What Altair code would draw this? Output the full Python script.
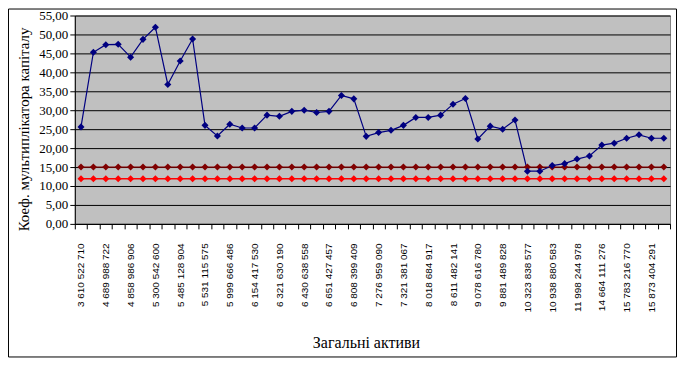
import json
import altair as alt
import pandas as pd

# category labels shown on every second category
labels = ["3 610 522 710", "4 689 988 722", "4 858 986 906", "5 300 542 600",
          "5 485 128 904", "5 531 115 575", "5 999 666 486", "6 154 417 530",
          "6 321 630 190", "6 430 638 558", "6 651 427 457", "6 808 399 409",
          "7 276 959 090", "7 321 381 067", "8 018 684 917", "8 611 482 141",
          "9 078 616 780", "9 881 489 828", "10 323 838 577", "10 938 880 583",
          "11 998 244 978", "14 664 111 276", "15 783 216 770", "15 873 404 291"]

multiplier = [25.6, 45.3, 47.3, 47.4, 44.0, 48.7, 51.9, 36.8, 43.0, 48.8,
              26.0, 23.2, 26.3, 25.3, 25.3, 28.7, 28.4, 29.7, 30.0, 29.4,
              29.7, 33.9, 33.0, 23.1, 24.1, 24.7, 26.0, 28.1, 28.1, 28.7,
              31.6, 33.1, 22.4, 25.8, 25.0, 27.4, 13.9, 13.9, 15.4, 15.9,
              17.1, 17.9, 20.8, 21.3, 22.6, 23.5, 22.6, 22.6]
upper_level = 15.0
lower_level = 11.9

series = ["lower", "upper", "multiplier"]
colors = ["#FF0000", "#800000", "#000080"]
widths = [1.5, 1.2, 1.0]

rows = []
for i in range(len(multiplier)):
    rows.append({"i": i, "v": lower_level, "s": "lower"})
for i in range(len(multiplier)):
    rows.append({"i": i, "v": upper_level, "s": "upper"})
for i, v in enumerate(multiplier):
    rows.append({"i": i, "v": v, "s": "multiplier"})
df = pd.DataFrame(rows)

label_expr = "datum.value % 2 == 0 ? " + json.dumps(labels, ensure_ascii=False) + "[datum.value / 2] : ''"

x = alt.X("i:O",
          scale=alt.Scale(type="band", paddingInner=0, paddingOuter=0),
          sort=None,
          axis=alt.Axis(labelExpr=label_expr, labelAngle=-90, labelAlign="right",
                        labelBaseline="middle", labelFont="Liberation Sans",
                        labelFontSize=10, labelColor="black", labelPadding=14,
                        labelOverlap=False, labelFlush=False,
                        tickBand="extent", tickSize=5, tickColor="black",
                        domainColor="black", grid=False,
                        titleFont="Liberation Serif", titleFontSize=16,
                        titleFontWeight="normal", titleColor="black",
                        titleX=292, titleY=124, titleAlign="center",
                        titleBaseline="alphabetic"),
          title="Загальні активи")

y = alt.Y("v:Q",
          scale=alt.Scale(domain=[0, 55], nice=False, zero=True),
          axis=alt.Axis(values=list(range(0, 56, 5)),
                        labelExpr="replace(format(datum.value, '.2f'), '.', ',')",
                        labelFont="Liberation Serif", labelFontSize=13,
                        labelColor="black", labelPadding=2,
                        grid=True, gridColor="black", gridWidth=1,
                        tickSize=5, tickColor="black", domainColor="black",
                        titleFont="Liberation Serif", titleFontSize=15,
                        titleFontWeight="normal", titleColor="black",
                        titleAngle=-90, titleAlign="left",
                        titleBaseline="alphabetic", titleX=-46, titleY=216),
          title="Коеф. мультиплікатора капіталу")

color = alt.Color("s:N", scale=alt.Scale(domain=series, range=colors), legend=None)
sw = alt.StrokeWidth("s:N", scale=alt.Scale(domain=series, range=widths), legend=None)

lines = alt.Chart(df).mark_line().encode(x=x, y=y, color=color, strokeWidth=sw)
points = alt.Chart(df).mark_point(shape="diamond", filled=True, size=50, opacity=1).encode(
    x=x, y=y, color=color)

frame = alt.Chart(pd.DataFrame({"a": [0]})).mark_rect(
    fillOpacity=0, stroke="black", strokeWidth=1).encode(
    x=alt.value(-66.5), x2=alt.value(603.5), y=alt.value(-6.5), y2=alt.value(342.5))

chart = alt.layer(lines, points, frame).properties(
    width=597, height=209,
    autosize=alt.AutoSizeParams(type="none"),
    padding={"left": 67, "top": 7, "right": 7, "bottom": 135},
    background="white",
).configure_view(fill="#C0C0C0", stroke="#808080", strokeWidth=1)

chart.save("out.html", embed_options={"renderer": "svg", "actions": False})
